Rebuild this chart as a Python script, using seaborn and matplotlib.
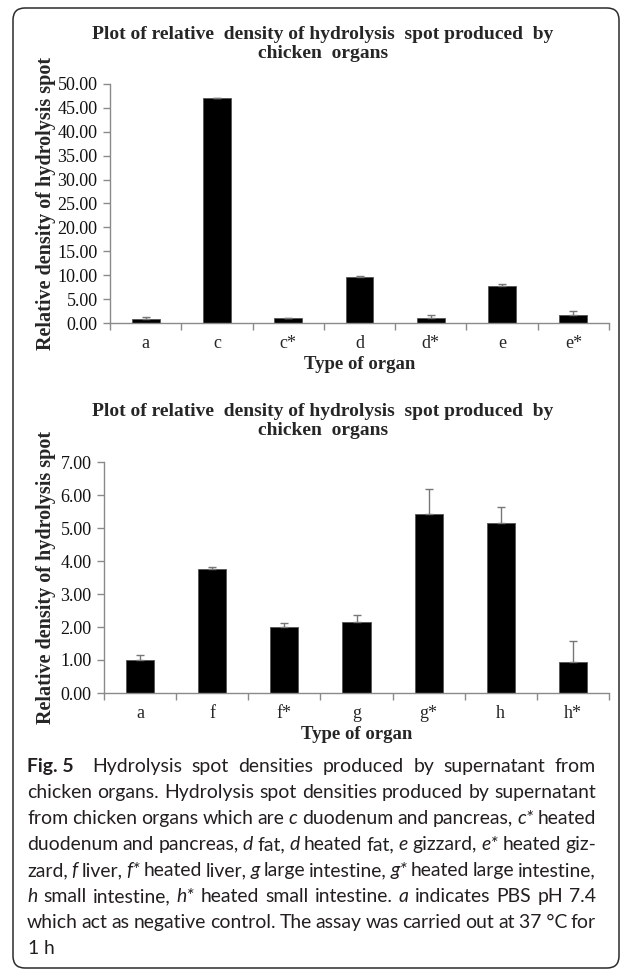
import re
import numpy as np
import pandas as pd
import matplotlib
matplotlib.use("Agg")
import matplotlib.pyplot as plt
import seaborn as sns
from matplotlib.patches import FancyBboxPatch

# ---------------- data ----------------
top_organs = ["a", "c", "c*", "d", "d*", "e", "e*"]
top_density = [0.90, 47.15, 1.05, 9.55, 1.05, 7.70, 1.75]
top_error = [0.28, 0.00, 0.05, 0.28, 0.70, 0.50, 0.70]
top_yticks = [0, 5, 10, 15, 20, 25, 30, 35, 40, 45, 50]

bottom_organs = ["a", "f", "f*", "g", "g*", "h", "h*"]
bottom_density = [0.99, 3.77, 2.01, 2.16, 5.41, 5.16, 0.93]
bottom_error = [0.15, 0.05, 0.10, 0.19, 0.77, 0.47, 0.65]
bottom_yticks = [0, 1, 2, 3, 4, 5, 6, 7]

chart_title = "Plot of relative  density of hydrolysis  spot produced  by\nchicken  organs"
y_label = "Relative density of hydrolysis spot"
x_label = "Type of organ"

caption_lines = [
    "<b>Fig.~5</b>  Hydrolysis spot densities produced by supernatant from",
    "chicken organs. Hydrolysis spot densities produced by supernatant",
    "from chicken organs which are <i>c</i> duodenum and pancreas, <i>c*</i> heated",
    "duodenum and pancreas, <i>d</i> fat, <i>d</i> heated fat, <i>e</i> gizzard, <i>e*</i> heated giz-",
    "zard, <i>f</i> liver, <i>f*</i> heated liver, <i>g</i> large intestine, <i>g*</i> heated large intestine,",
    "<i>h</i> small intestine, <i>h*</i> heated small intestine. <i>a</i> indicates PBS pH 7.4",
    "which act as negative control. The assay was carried out at 37~°C for",
    "1 h",
]

# ---------------- style ----------------
W, H, DPI = 633, 971, 100
sns.set_theme(style="white")
plt.rcParams["font.family"] = ["Liberation Serif", "DejaVu Serif"]
plt.rcParams["axes.linewidth"] = 1.0

fig = plt.figure(figsize=(W / DPI, H / DPI), dpi=DPI)
fig.patch.set_facecolor("white")

# background axes in pixel units for the rounded frame
bg = fig.add_axes([0, 0, 1, 1])
bg.set_xlim(0, W)
bg.set_ylim(H, 0)
bg.axis("off")
bg.add_patch(FancyBboxPatch((13, 8), W - 14 - 13, H - 3 - 8,
                            boxstyle="round,pad=0,rounding_size=12",
                            fc="none", ec="#2b2b2b", lw=1.1))

def px_rect(left, right, top, bottom):
    return [left / W, 1 - bottom / H, (right - left) / W, (bottom - top) / H]

axis_grey = "#8a8a8a"
err_grey = "#777777"
serif = ["Liberation Serif", "DejaVu Serif"]

def draw_panel(rect, organs, dens, err, yticks, title_y):
    ax = fig.add_axes(rect)
    df = pd.DataFrame({"organ": organs, "density": dens})
    sns.barplot(data=df, x="organ", y="density", color="black", width=0.39,
                edgecolor="#555555", linewidth=0.6, ax=ax, errorbar=None,
                saturation=1)
    pos = np.arange(len(organs))
    ax.errorbar(pos, dens, yerr=[np.zeros(len(err)), err], fmt="none",
                ecolor=err_grey, elinewidth=1.0, capsize=3.2, capthick=1.0)
    ax.set_ylim(yticks[0], yticks[-1])
    ax.set_xlim(-0.5, len(organs) - 0.5)
    ax.set_yticks(yticks)
    ax.set_yticklabels([f"{v:.2f}" for v in yticks], fontsize=13,
                       family=serif)
    ax.set_xticks(np.append(pos - 0.5, pos[-1] + 0.5))
    ax.set_xticklabels([])
    ax.set_xticks(pos, minor=True)
    ax.set_xticklabels(organs, minor=True, fontsize=13, family=serif)
    ax.tick_params(axis="x", which="major", direction="out", length=5,
                   width=1, color=axis_grey, bottom=True)
    ax.tick_params(axis="x", which="minor", length=0, pad=9)
    ax.tick_params(axis="y", direction="out", length=5, width=1,
                   color=axis_grey, left=True, pad=4, labelcolor="#111111")
    for s in ["top", "right"]:
        ax.spines[s].set_visible(False)
    for s in ["left", "bottom"]:
        ax.spines[s].set_color(axis_grey)
        ax.spines[s].set_linewidth(1.0)
    ax.grid(False)
    ax.set_facecolor("white")
    ax.set_xlabel(x_label, fontsize=13.5, fontweight="bold", family=serif)
    ax.set_ylabel(y_label, fontsize=14.5, fontweight="bold", family=serif)
    hpx = rect[3] * H
    wpx = rect[2] * W
    lpx = rect[0] * W
    ax.xaxis.set_label_coords(0.5, -33 / hpx)
    ax.yaxis.set_label_coords((56 - lpx) / wpx, 0.5)
    fig.text(323 / W, 1 - title_y / H, chart_title, ha="center", va="center",
             fontsize=14, fontweight="bold", family=serif, linespacing=1.15)
    return ax

draw_panel(px_rect(110, 609, 84, 323), top_organs, top_density, top_error,
           top_yticks, 44)
draw_panel(px_rect(104, 609, 462, 693), bottom_organs, bottom_density,
           bottom_error, bottom_yticks, 421)

# ---------------- caption ----------------
sans = ["Lato", "Open Sans", "DejaVu Sans"]
renderer = fig.canvas.get_renderer()
cap = {"fs": 13.0}

def piece_props(style):
    p = dict(family=sans, fontsize=cap["fs"], color="#231f20")
    if style == "i":
        p["style"] = "italic"
    if style == "b":
        p["weight"] = "bold"
    return p

def parse_word(word):
    out = []
    for part in re.split(r"(<[ib]>.*?</[ib]>)", word):
        if not part:
            continue
        m = re.match(r"<([ib])>(.*?)</[ib]>", part)
        if m:
            out.append((m.group(2).replace("~", " "), m.group(1)))
        else:
            out.append((part.replace("~", " "), "r"))
    return out

def measure(txt, style):
    t = fig.text(0, 0, txt, **piece_props(style))
    w = t.get_window_extent(renderer).width
    t.remove()
    return w

left_px, right_px = 27, 596
base0, lead = 772, 26.0
min_space = 0.75

def layout():
    space_w = measure("a a", "r") - measure("aa", "r")
    out = []
    for line in caption_lines:
        parts = re.split(r"( +)", line)
        words, gaps = [], []
        for j, p in enumerate(parts):
            if j % 2 == 0:
                words.append(parse_word(p))
            else:
                gaps.append(len(p))
        widths = [[measure(t, s) for t, s in w] for w in words]
        ink = sum(sum(w) for w in widths)
        out.append((words, gaps, widths, ink))
    return space_w, out

space_w, lines = layout()
tight = max(l[3] + min_space * space_w * sum(l[1]) for l in lines[:-1])
cap["fs"] = cap["fs"] * (right_px - left_px) / tight
space_w, lines = layout()

for li, (words, gaps, widths, ink) in enumerate(lines):
    step = space_w
    if li < len(lines) - 1 and sum(gaps) > 0:
        step = ((right_px - left_px) - ink) / sum(gaps)
    x = left_px
    y = 1 - (base0 + li * lead) / H
    for wi, w in enumerate(words):
        for (t, s), pw in zip(w, widths[wi]):
            fig.text(x / W, y, t, va="baseline", ha="left", **piece_props(s))
            x += pw
        if wi < len(gaps):
            x += gaps[wi] * step

fig.savefig("out.png", dpi=DPI, facecolor="white")
